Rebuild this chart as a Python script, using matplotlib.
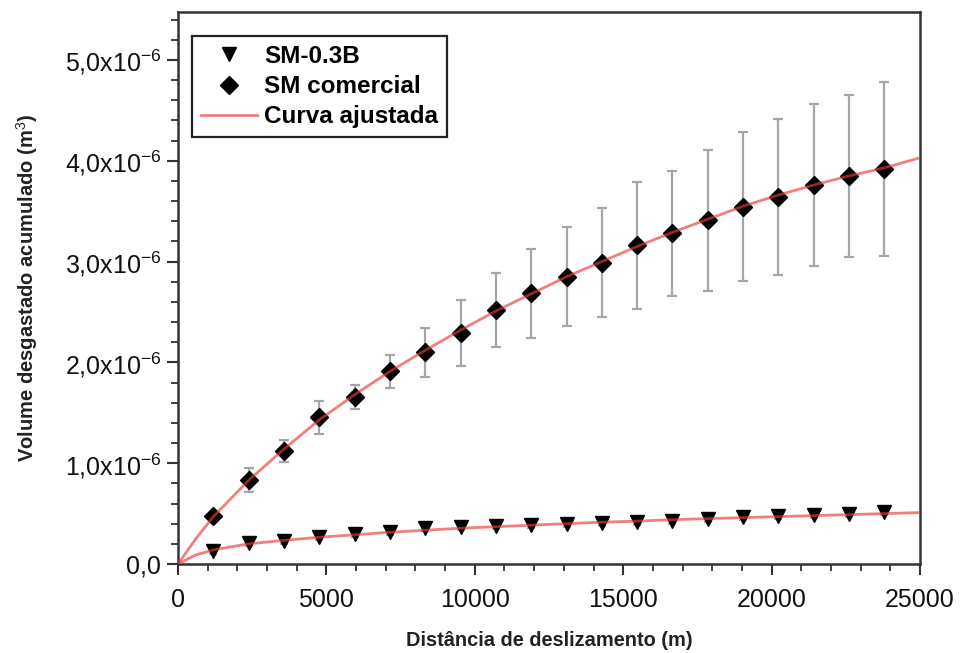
import numpy as np
import matplotlib
matplotlib.use("Agg")
import matplotlib.pyplot as plt
from matplotlib.ticker import MultipleLocator, FuncFormatter

plt.rcParams["font.family"] = ["Liberation Sans", "DejaVu Sans"]
plt.rcParams["mathtext.fontset"] = "custom"
plt.rcParams["mathtext.rm"] = "Liberation Sans"
plt.rcParams["mathtext.it"] = "Liberation Sans:italic"
plt.rcParams["mathtext.bf"] = "Liberation Sans:bold"

# distance (m) of each measurement
dist = [1190, 2380, 3570, 4760, 5950, 7140, 8330, 9520, 10710, 11900,
        13090, 14280, 15470, 16660, 17850, 19040, 20230, 21420, 22610, 23800]

# accumulated worn volume, units of 1e-6 m^3
sm03b = [0.13, 0.21, 0.23, 0.27, 0.30, 0.32, 0.36, 0.37, 0.38, 0.39,
         0.40, 0.41, 0.42, 0.43, 0.45, 0.47, 0.48, 0.49, 0.50, 0.52]
sm03b_err = [0.03] * 20

comercial = [0.476, 0.83, 1.12, 1.455, 1.66, 1.91, 2.10, 2.29, 2.52, 2.685,
             2.85, 2.99, 3.16, 3.28, 3.41, 3.545, 3.64, 3.76, 3.85, 3.92]
comercial_err = [0.02, 0.12, 0.11, 0.165, 0.12, 0.16, 0.24, 0.33, 0.37, 0.44,
                 0.49, 0.54, 0.63, 0.62, 0.70, 0.74, 0.77, 0.80, 0.80, 0.86]

# fitted curves
fit_x = [0, 600, 1190, 2380, 3570, 4760, 5950, 7140, 8330, 9520, 10710, 11900,
         13090, 14280, 15470, 16660, 17850, 19040, 20230, 21420, 22610, 23800, 25000]
fit_comercial = [0, 0.25, 0.47, 0.83, 1.14, 1.43, 1.68, 1.91, 2.12, 2.32, 2.51, 2.68,
                 2.85, 3.00, 3.15, 3.29, 3.42, 3.55, 3.66, 3.76, 3.85, 3.93, 4.03]
fit_sm03b = [0, 0.09, 0.14, 0.20, 0.235, 0.265, 0.29, 0.315, 0.335, 0.355, 0.37, 0.385,
             0.40, 0.415, 0.425, 0.44, 0.45, 0.46, 0.47, 0.48, 0.49, 0.50, 0.51]

SCALE = 1e-6
LINE_RED = "#e83a3a"
ERR_GRAY = "#a6a6a6"
SPINE = "#333333"

fig = plt.figure(figsize=(9.61, 6.53), dpi=100)
ax = fig.add_axes([178 / 961, 1 - 564 / 653, (920 - 178) / 961, (564 - 12) / 653])

x = np.array(dist)
ax.errorbar(x, np.array(comercial) * SCALE, yerr=np.array(comercial_err) * SCALE,
            fmt="none", ecolor=ERR_GRAY, elinewidth=1.6, capsize=3.5, capthick=1.6, zorder=2)
ax.errorbar(x, np.array(sm03b) * SCALE, yerr=np.array(sm03b_err) * SCALE,
            fmt="none", ecolor=ERR_GRAY, elinewidth=1.4, capsize=3.0, capthick=1.4, zorder=2)

ax.plot(x, np.array(sm03b) * SCALE, "v", color="black", markersize=10.5,
        label="SM-0.3B", zorder=3)
ax.plot(x, np.array(comercial) * SCALE, "D", color="black", markersize=9.5,
        label="SM comercial", zorder=3)
ax.plot(fit_x, np.array(fit_comercial) * SCALE, color=LINE_RED, alpha=0.65,
        linewidth=2.0, label="Curva ajustada", zorder=4)
ax.plot(fit_x, np.array(fit_sm03b) * SCALE, color=LINE_RED, alpha=0.65,
        linewidth=2.0, zorder=4)

ax.set_xlim(0, 25000)
ax.set_ylim(0, 5.476e-6)

ax.xaxis.set_major_locator(MultipleLocator(5000))
ax.xaxis.set_minor_locator(MultipleLocator(1000))
ax.yaxis.set_major_locator(MultipleLocator(1e-6))
ax.yaxis.set_minor_locator(MultipleLocator(0.2e-6))


def _yfmt(v, pos):
    n = v / SCALE
    if abs(n) < 1e-9:
        return "0,0"
    return f"{n:.1f}".replace(".", ",") + r"x10$^{-6}$"


ax.yaxis.set_major_formatter(FuncFormatter(_yfmt))

for s in ("left", "bottom", "top", "right"):
    ax.spines[s].set_color(SPINE)
    ax.spines[s].set_linewidth(1.8)

ax.tick_params(which="major", direction="out", length=8, width=1.5,
               colors=SPINE, labelsize=18, labelcolor="#111111")
ax.tick_params(axis="x", which="major", pad=9)
ax.tick_params(axis="y", which="major", pad=4)
ax.tick_params(which="minor", direction="out", length=5, width=1.3, colors=SPINE)

ax.set_xlabel("Distância de deslizamento (m)", fontsize=14.4, fontweight="bold",
              color="#222222", labelpad=14)
ax.set_ylabel(r"Volume desgastado acumulado (m$^{3}$)", fontsize=14.5,
              fontweight="bold", color="#222222", labelpad=18)

leg = ax.legend(loc="upper left", bbox_to_anchor=(0.003, 0.978),
                prop={"weight": "bold", "size": 17.5}, frameon=True, fancybox=False,
                edgecolor="#222222", framealpha=1, handlelength=2.3,
                borderpad=0.35, labelspacing=0.3, handletextpad=0.3)
leg.get_frame().set_linewidth(1.6)

fig.savefig("out.png", dpi=100, facecolor="white")
